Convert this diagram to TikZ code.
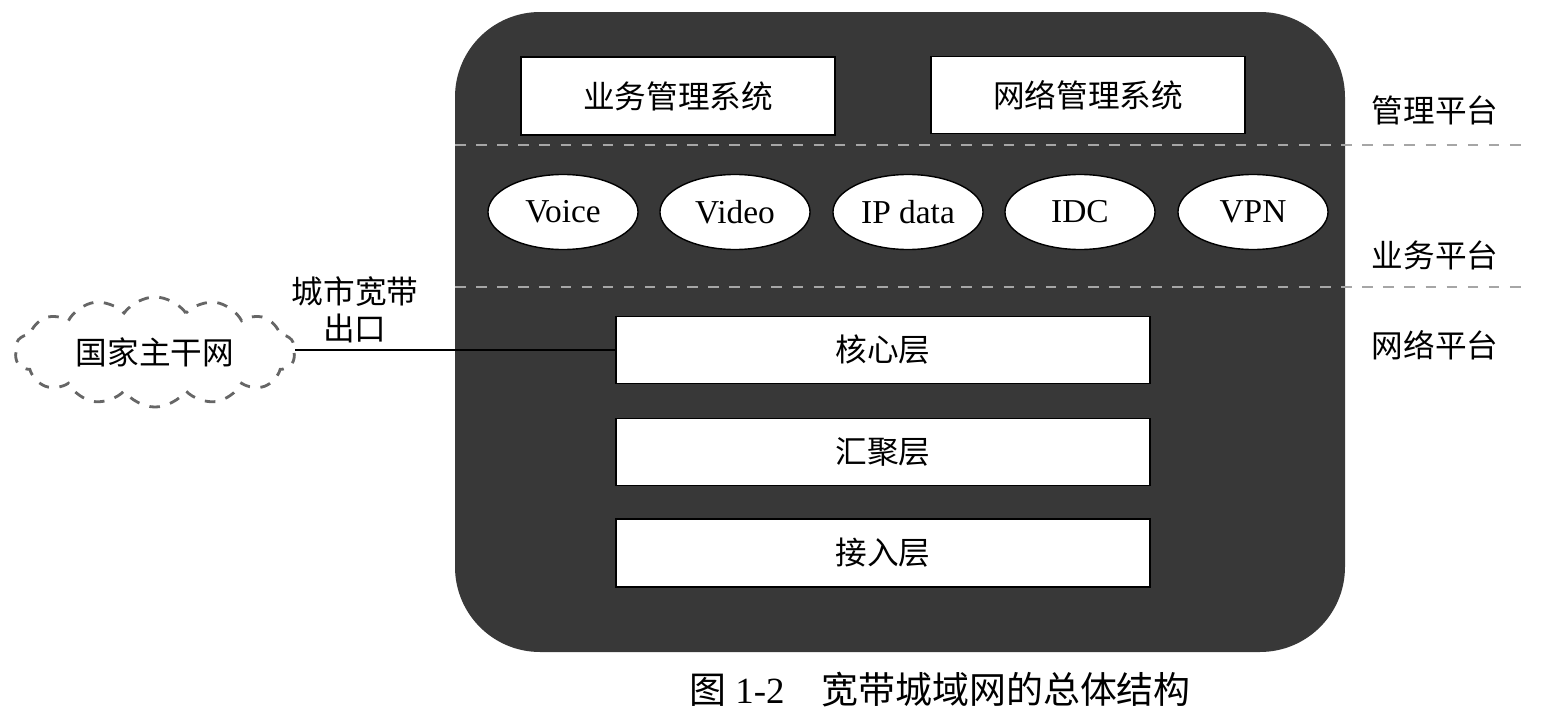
\documentclass[tikz,border=0pt]{standalone}
\usepackage{fontspec}
\setmainfont{Liberation Serif}
\newfontfamily\cjk{Noto Sans CJK SC}
\usetikzlibrary{shapes.symbols,shapes.geometric}
\begin{document}
\begin{tikzpicture}[x=0.01cm,y=-0.01cm,
  every node/.style={font=\cjk\fontsize{9pt}{11pt}\selectfont},
  wbox/.style={draw=black,fill=white,inner sep=0pt},
  svc/.style={ellipse,draw=black,fill=white,minimum width=1.5cm,minimum height=0.75cm,inner sep=0pt,font=\fontsize{9.5pt}{11pt}\selectfont},
  sep/.style={dashed,gray!70,line width=0.8pt}]
\useasboundingbox (0,0) rectangle (1541,727);
\fill[fill=black!78,rounded corners=0.85cm] (455,12) rectangle (1345,652);
\node[wbox,minimum width=3.14cm,minimum height=0.78cm] (bm) at (678,96) {业务管理系统};
\node[wbox,minimum width=3.14cm,minimum height=0.77cm] (nm) at (1088,95) {网络管理系统};
\draw[sep] (455,145) -- (1530,145);
\draw[sep] (455,287) -- (1530,287);
\node[svc] (v1) at (563,212) {Voice};
\node[svc] (v2) at (735,212) {Video};
\node[svc] (v3) at (908,212) {IP data};
\node[svc] (v4) at (1080,212) {IDC};
\node[svc] (v5) at (1253,212) {VPN};
\node (l1) at (1435,110) {管理平台};
\node (l2) at (1435,255) {业务平台};
\node (l3) at (1435,345) {网络平台};
\node[wbox,minimum width=5.34cm,minimum height=0.67cm] (core) at (883,350) {核心层};
\node[wbox,minimum width=5.34cm,minimum height=0.67cm] (agg) at (883,452) {汇聚层};
\node[wbox,minimum width=5.34cm,minimum height=0.68cm] (acc) at (883,553) {接入层};
\node[cloud,cloud puffs=14,cloud puff arc=110,aspect=2.6,draw=gray!80!black,dashed,line width=0.8pt,minimum width=2.8cm,minimum height=1.1cm,inner sep=0pt] (cl) at (155,352) {国家主干网};
\node[align=center,font=\cjk\fontsize{9pt}{10.5pt}\selectfont] (exit) at (355,310) {城市宽带\\出口};
\draw[black] (cl.east |- core.west) -- (core.west);
\node[font=\fontsize{10.5pt}{12pt}\selectfont] (cap) at (940,690) {{\cjk 图} 1-2\quad{}{\cjk 宽带城域网的总体结构}};
\end{tikzpicture}
\end{document}
